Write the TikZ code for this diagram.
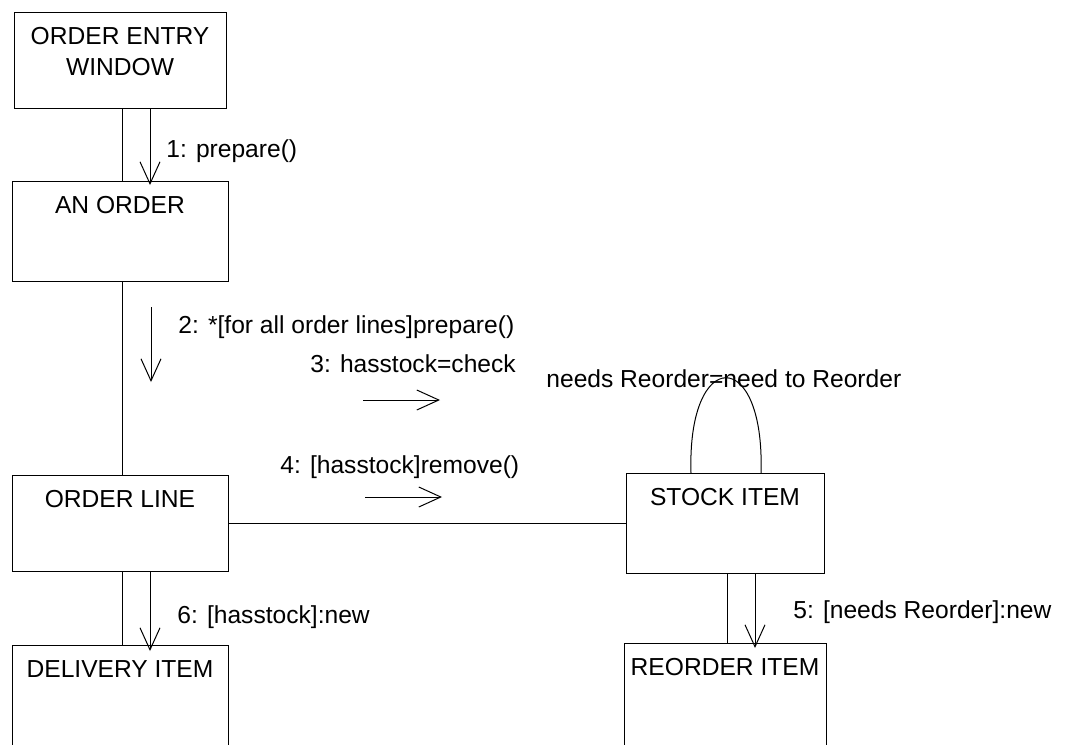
\documentclass[tikz,border=0pt]{standalone}
\usepackage{fontspec}
\setmainfont{Liberation Sans}
\usetikzlibrary{arrows.meta}

\tikzset{
  obj/.style={draw, line width=0.5pt, inner sep=0pt, anchor=north,
    align=center, text height=16pt},
  link/.style={line width=0.5pt},
  msg/.style={line width=0.5pt, -{Straight Barb[length=11pt,width=10pt]}},
  lbl/.style={anchor=base west, inner sep=0pt}
}

\begin{document}
\begin{tikzpicture}[x=0.5pt, y=-0.5pt, font=\fontsize{12.3}{15.3}\selectfont]
  \useasboundingbox (0,0) rectangle (1065,744);
  \clip (0,0) rectangle (1065,744);

  % Objects
  \node[obj, minimum width=106pt, text height=31.3pt, text depth=16.7pt] (win) at (120,12) {ORDER ENTRY\\WINDOW};
  \node[obj, minimum width=108pt, text depth=34pt] (order) at (120,181) {AN ORDER};
  \node[obj, minimum width=108pt, text depth=32pt] (line) at (120,475) {ORDER LINE};
  \node[obj, minimum width=99pt, text depth=34pt] (stock) at (725,473) {STOCK ITEM};
  \node[obj, minimum width=108pt, text depth=60pt] (delivery) at (120,645) {DELIVERY ITEM};
  \node[obj, minimum width=101pt, text depth=60pt] (reorder) at (725,643) {REORDER ITEM};

  % Links
  \draw[link] ([xshift=1pt]win.south) -- ([xshift=1pt]order.north);
  \draw[link] ([xshift=1pt]order.south) -- ([xshift=1pt]line.north);
  \draw[link] (line.east) -- (stock.west);
  \draw[link] ([xshift=1pt]line.south) -- ([xshift=1pt]delivery.north);
  \draw[link] ([xshift=1pt]stock.south) -- ([xshift=1pt]reorder.north);
  \draw[link] ([xshift=-17pt]stock.north) .. controls +(-4,-127) and +(4,-127) .. ([xshift=18pt]stock.north);

  % Messages
  \coordinate (m2a) at (151,307);
  \coordinate (m2b) at (151,382);
  \coordinate (m3a) at (363,400);
  \coordinate (m3b) at (440,400);
  \coordinate (m4a) at (365,497);
  \coordinate (m4b) at (442,497);
  \draw[msg] ([xshift=15pt]win.south) -- ([xshift=15pt,yshift=-2pt]order.north);
  \draw[msg] (m2a) -- (m2b);
  \draw[msg] (m3a) -- (m3b);
  \draw[msg] (m4a) -- (m4b);
  \draw[msg] ([xshift=15pt]stock.south) -- ([xshift=15pt,yshift=-2.5pt]reorder.north);
  \draw[msg] ([xshift=15pt]line.south) -- ([xshift=15pt,yshift=-3pt]delivery.north);

  % Message labels
  \node[lbl] (l1) at (166,157) {1: prepare()};
  \node[lbl] (l2) at (178,333) {2: *[for all order lines]prepare()};
  \node[lbl] (l3) at (310,372) {3: hasstock=check};
  \node[lbl] (lr) at (546,387) {needs Reorder=need to Reorder};
  \node[lbl] (l4) at (280,473) {4: [hasstock]remove()};
  \node[lbl] (l5) at (793,618) {5: [needs Reorder]:new};
  \node[lbl] (l6) at (177,623) {6: [hasstock]:new};
\end{tikzpicture}
\end{document}
